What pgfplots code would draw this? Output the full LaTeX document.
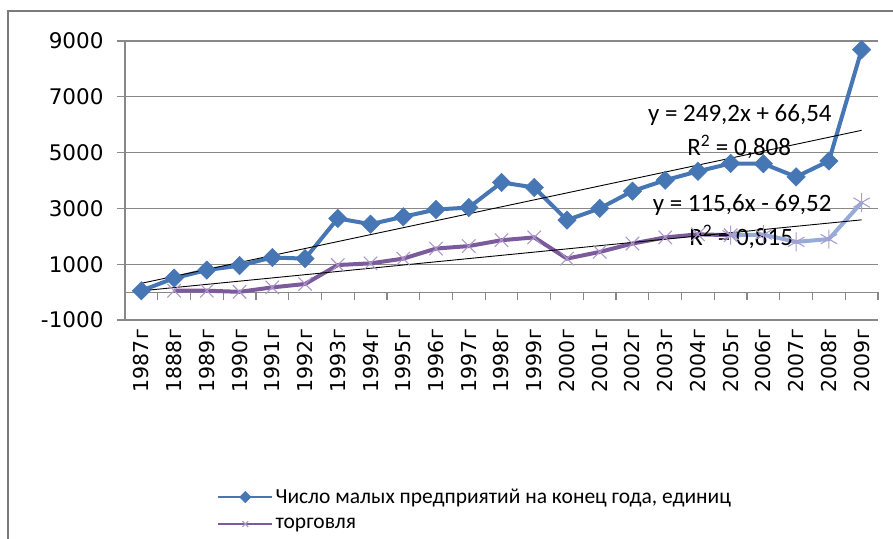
\documentclass[border=0pt]{standalone}
\usepackage{fontspec}
\usepackage{pgfplots}
\pgfplotsset{compat=1.18}
\setmainfont{DejaVu Sans}
\newfontfamily\carl{Carlito}
\definecolor{sblue}{HTML}{4677B4}
\definecolor{spurp}{HTML}{7B5B9C}
\definecolor{spurpm}{HTML}{AC98C8}
\definecolor{slight}{HTML}{97ABD9}
\definecolor{gridg}{HTML}{888888}
\begin{document}
\begin{tikzpicture}[x=1pt,y=1pt]
\useasboundingbox (0,0) rectangle (893,538);
\draw[color=gridg!90!black, line width=2pt] (8,-5) -- (8,527) -- (900,527);
\begin{axis}[
  at={(125pt,218pt)}, anchor=south west,
  scale only axis, width=753pt, height=279pt,
  xmin=-0.5, xmax=22.5, ymin=-1000, ymax=9000,
  clip=false,
  axis x line*=bottom, axis y line*=left,
  x axis line style={draw=none},
  y axis line style={draw=gridg, line width=1.2pt},
  xtick={0,...,22},
  xticklabels={1987г,1888г,1989г,1990г,1991г,1992г,1993г,1994г,1995г,1996г,1997г,1998г,1999г,2000г,2001г,2002г,2003г,2004г,2005г,2006г,2007г,2008г,2009г},
  x tick style={draw=none},
  xticklabel style={rotate=90, anchor=east, font=\fontsize{20.5}{20.5}\selectfont, inner sep=2pt, xshift=1pt},
  ytick={-1000,1000,3000,5000,7000,9000},
  tick align=outside, major tick length=8pt,
  y tick style={draw=gridg, line width=1.2pt},
  yticklabel style={font=\fontsize{21.5}{21.5}\selectfont, xshift=-10pt},
  yticklabel={\pgfmathprintnumber[assume math mode=true,1000 sep={}]{\tick}},
  ymajorgrids, grid style={draw=gridg, line width=1.2pt},
  legend style={at={(axis description cs:0.122,-0.598)}, anchor=north west, draw=none, fill=none,
    font=\carl\fontsize{21.5}{21.5}\selectfont, inner sep=0pt, row sep=9pt, cells={anchor=west}},
  legend cell align=left,
  legend image code/.code={\draw[#1, line width=2.5pt, mark size=4pt, mark repeat=2, mark phase=2] plot coordinates {(0pt,0pt) (27pt,0pt) (54pt,0pt)};},
]
\draw[gridg, line width=1.2pt] (axis cs:-0.5,0) -- (axis cs:22.5,0);
\pgfplotsinvokeforeach{-0.5,0.5,...,22.5}{\draw[gridg, line width=1.2pt] (axis cs:#1,0) -- ++(0pt,-8pt);}
\addplot[sblue, line width=4pt, mark=square*, mark size=6.5pt, mark options={rotate=45, line width=0.5pt}] coordinates {
(0,50) (1,500) (2,790) (3,950) (4,1240) (5,1200) (6,2640) (7,2435) (8,2700) (9,2960) (10,3030)
(11,3930) (12,3750) (13,2580) (14,3000) (15,3620) (16,4010) (17,4330) (18,4610) (19,4600) (20,4130) (21,4700) (22,8690)};
\addlegendentry{Число малых предприятий на конец года, единиц}
\addplot[spurp, line width=4pt, mark=x, mark size=9.5pt, mark options={spurpm, line width=1.1pt}] coordinates {
(1,50) (2,50) (3,10) (4,170) (5,290) (6,970) (7,1030) (8,1200) (9,1560) (10,1650) (11,1860) (12,1960)
(13,1200) (14,1440) (15,1740) (16,1960) (17,2070) (18,2040)};
\addlegendentry{торговля}
\addplot[slight, line width=4pt, mark=asterisk, mark size=9.5pt, mark options={color=spurpm!70!slight, line width=1.1pt}, forget plot] coordinates {
(18,2040) (19,2060) (20,1800) (21,1900) (22,3210)};
\addplot[black, line width=0.9pt, forget plot] coordinates {(0,315.74) (22,5798.14)};
\addplot[black, line width=0.9pt, forget plot] coordinates {(0,46.08) (22,2589.28)};
\node[font=\carl\fontsize{25}{25}\selectfont, inner sep=0pt] at (axis cs:18.28,6344) {y = 249,2x + 66,54};
\node[font=\carl\fontsize{25}{25}\selectfont, inner sep=0pt] at (axis cs:18.26,5197) {R\textsuperscript{2} = 0,808};
\node[font=\carl\fontsize{25}{25}\selectfont, inner sep=0pt] at (axis cs:18.35,3118) {y = 115,6x - 69,52};
\node[font=\carl\fontsize{25}{25}\selectfont, inner sep=0pt] at (axis cs:18.32,1971) {R\textsuperscript{2} = 0,815};
\end{axis}
\end{tikzpicture}
\end{document}
